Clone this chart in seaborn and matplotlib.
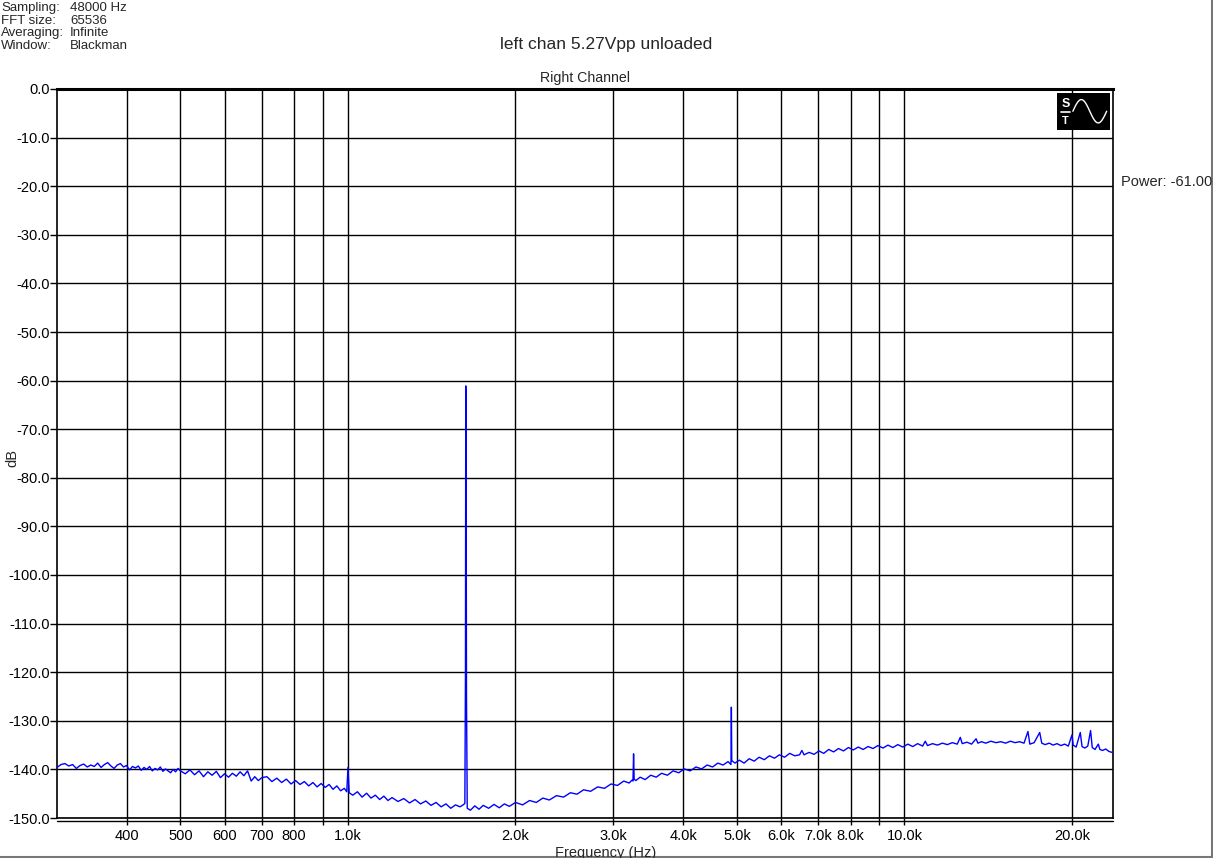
import numpy as np
import pandas as pd
import matplotlib
matplotlib.use("Agg")
import matplotlib.pyplot as plt
import matplotlib.ticker as mticker
from matplotlib.patches import Rectangle
import seaborn as sns

# spectrum, by segment
freq_a = [300, 305, 310, 315, 320, 325, 330, 335, 340, 345,
          350, 355, 360, 365, 370, 375, 380, 385, 390, 395,
          400, 405, 410, 415, 420, 425, 430, 435, 440, 445,
          450, 455, 460, 465, 470, 475, 480, 485, 490, 495,
          500, 510, 520, 530, 540, 550, 560, 570, 580, 590,
          600, 610, 620, 630, 640, 650, 660, 670, 680, 690, 700]
db_a = [-139.6, -139.0, -138.8, -139.3, -139.0, -139.8, -139.2, -138.9, -139.5, -139.1,
        -139.4, -138.7, -139.6, -139.0, -138.6, -139.3, -139.8, -139.1, -138.8, -139.5,
        -139.2, -140.1, -139.4, -139.7, -139.3, -140.2, -139.6, -140.0, -139.4, -140.3,
        -139.8, -140.1, -139.5, -140.4, -139.9, -140.3, -140.7, -140.0, -140.5, -139.8,
        -140.3, -140.9, -140.1, -141.1, -140.3, -141.5, -140.5, -141.2, -140.4, -141.7,
        -140.9, -141.6, -140.8, -141.4, -140.5, -141.3, -140.3, -142.4, -141.5, -142.3, -141.7]

freq_b = [715, 730, 745, 760, 775, 790, 805, 820, 835, 850,
          865, 880, 895, 910, 925, 940, 955, 970, 985,
          995, 1000, 1005,
          1020, 1040, 1060, 1080, 1100, 1120, 1140, 1160, 1180, 1200,
          1230, 1260, 1290, 1320, 1350, 1380, 1410, 1440, 1470, 1500,
          1530, 1560, 1590, 1610]
db_b = [-141.5, -142.5, -141.8, -142.7, -142.0, -143.0, -142.3, -143.1, -142.5, -143.4,
        -142.7, -143.6, -142.9, -143.7, -143.1, -144.1, -143.4, -144.4, -143.9,
        -144.6, -139.6, -144.8,
        -145.3, -144.6, -145.7, -144.9, -145.9, -145.3, -146.2, -145.5, -146.4, -145.8,
        -146.6, -146.0, -146.9, -146.2, -147.1, -146.5, -147.4, -146.8, -147.7, -147.1,
        -148.0, -147.3, -147.7, -147.3]

# fundamental
freq_tone = [1622, 1626, 1628, 1630, 1633, 1638]
db_tone = [-147.0, -120.0, -61.1, -64.0, -125.0, -148.0]

freq_c = [1660, 1690, 1720, 1750, 1790, 1830, 1870, 1910, 1950, 2000,
          2060, 2120, 2180, 2240, 2300, 2370, 2440, 2510, 2580, 2650,
          2730, 2810, 2890, 2970, 3050, 3130, 3200, 3240,
          3252, 3260, 3268]
db_c = [-148.4, -147.5, -148.2, -147.4, -148.0, -147.2, -147.9, -147.1, -147.6, -146.8,
        -147.3, -146.4, -146.8, -145.9, -146.3, -145.4, -145.7, -144.8, -145.1, -144.2,
        -144.5, -143.6, -143.9, -143.0, -143.3, -142.4, -142.8, -142.2,
        -142.4, -136.8, -142.0]

freq_d = [3290, 3350, 3420, 3500, 3580, 3660, 3750, 3840, 3930, 4020,
          4120, 4220, 4320, 4420, 4520, 4620, 4720, 4820, 4870,
          4878, 4886, 4894]
db_d = [-142.3, -141.6, -142.1, -141.2, -141.6, -140.8, -141.2, -140.3, -140.7, -139.9,
        -140.3, -139.5, -139.9, -139.1, -139.5, -138.7, -139.1, -138.4, -138.9,
        -139.0, -127.2, -138.2]

freq_e = [4960, 5050, 5150, 5260, 5370, 5480, 5600, 5720, 5840, 5960,
          6090, 6220, 6350, 6480, 6540, 6600, 6740, 6880, 7020, 7160,
          7310, 7460, 7610, 7770, 7930, 8090, 8260, 8430, 8600, 8780,
          8960, 9150, 9340, 9530, 9730, 9930, 10140, 10350, 10560, 10780]
db_e = [-138.7, -138.1, -138.7, -137.8, -138.3, -137.5, -138.0, -137.2, -137.7, -137.0,
        -137.5, -136.7, -137.2, -137.0, -136.1, -137.0, -136.5, -136.9, -136.2, -136.7,
        -135.9, -136.4, -135.7, -136.2, -135.5, -136.0, -135.4, -135.9, -135.3, -135.7,
        -135.1, -135.6, -135.0, -135.5, -134.9, -135.4, -134.8, -135.3, -134.7, -135.2]

freq_f = [10900, 11000, 11230, 11460, 11700, 11940, 12190, 12440, 12600, 12700,
          12950, 13200, 13450, 13550, 13750, 14000, 14300, 14600, 14900, 15200,
          15500, 15800, 16100, 16400, 16670, 16800, 17100, 17500, 17650, 17900,
          18200, 18500, 18800, 19100, 19400, 19700, 20000, 20100, 20350, 20700,
          20850, 21100, 21350, 21600, 21750, 22000, 22300, 22450, 22700, 23000,
          23300, 23600]
db_f = [-134.2, -135.1, -134.7, -135.0, -134.6, -134.9, -134.5, -134.8, -133.4, -134.7,
        -134.4, -134.8, -133.7, -134.6, -134.3, -134.6, -134.2, -134.5, -134.3, -134.6,
        -134.2, -134.5, -134.3, -134.6, -132.2, -134.8, -134.5, -132.4, -134.6, -134.9,
        -134.6, -135.0, -134.7, -135.1, -134.8, -135.2, -132.9, -135.0, -135.4, -132.4,
        -135.3, -135.6, -135.2, -132.0, -135.5, -135.9, -134.8, -135.9, -136.1, -135.8,
        -136.3, -136.5]

major_ticks = [400, 500, 600, 700, 800, 1000, 2000, 3000, 4000, 5000,
               6000, 7000, 8000, 10000, 20000]
major_labels = ["400", "500", "600", "700", "800", "1.0k", "2.0k", "3.0k", "4.0k",
                "5.0k", "6.0k", "7.0k", "8.0k", "10.0k", "20.0k"]
minor_ticks = [900, 9000]
db_ticks = list(range(-150, 1, 10))

info_keys = ["Sampling:", "FFT size:", "Averaging:", "Window:"]
info_vals = ["48000 Hz", "65536", "Infinite", "Blackman"]

df = pd.DataFrame({
    "freq": freq_a + freq_b + freq_tone + freq_c + freq_d + freq_e + freq_f,
    "db": db_a + db_b + db_tone + db_c + db_d + db_e + db_f,
})

sns.set_style("white")
plt.rcParams["font.family"] = ["Liberation Sans", "DejaVu Sans"]

W, H = 1213, 858
fig = plt.figure(figsize=(W / 100, H / 100), dpi=100)
ax = fig.add_axes([57 / W, 1 - 818 / H, (1113 - 57) / W, (818 - 89) / H])

sns.lineplot(data=df, x="freq", y="db", ax=ax, color="#0000ff", lw=1.0,
             estimator=None, sort=False, zorder=3)

ax.set_xscale("log")
ax.set_xlim(300, 23700)
ax.set_ylim(-150, 0)
ax.xaxis.set_major_locator(mticker.FixedLocator(major_ticks))
ax.xaxis.set_major_formatter(mticker.FixedFormatter(major_labels))
ax.xaxis.set_minor_locator(mticker.FixedLocator(minor_ticks))
ax.xaxis.set_minor_formatter(mticker.NullFormatter())
ax.set_yticks(db_ticks)
ax.set_yticklabels([f"{v:.1f}" for v in db_ticks])
ax.grid(True, which="both", color="black", lw=1.0)
ax.tick_params(axis="both", which="both", direction="out", length=5, width=1,
               color="black", labelsize=10.5, labelcolor="black",
               bottom=True, left=True)
ax.tick_params(axis="x", pad=3)
ax.tick_params(axis="y", pad=0)
ax.set_xlabel("")
ax.set_ylabel("")
for name, sp in ax.spines.items():
    sp.set_visible(True)
    sp.set_color("black")
    sp.set_linewidth(1.2)
ax.spines["top"].set_linewidth(2.2)
# doubled bottom line
ax.plot([0, 1], [-0.004, -0.004], transform=ax.transAxes, color="black",
        lw=1.0, clip_on=False)

# logo
ax.add_patch(Rectangle((0.947, 0.944), 0.050, 0.051, transform=ax.transAxes,
                       facecolor="black", edgecolor="none", zorder=5))
ax.text(0.955, 0.980, "S", transform=ax.transAxes, color="white", fontsize=9,
        fontweight="bold", ha="center", va="center", zorder=6)
ax.text(0.955, 0.956, "T", transform=ax.transAxes, color="white", fontsize=8,
        fontweight="bold", ha="center", va="center", zorder=6)
ax.plot([0.9505, 0.9595], [0.968, 0.968], transform=ax.transAxes, color="white",
        lw=1.2, zorder=6)
wx = np.linspace(0.962, 0.994, 40)
wy = 0.9695 + 0.016 * np.sin((wx - 0.962) / 0.032 * 2 * np.pi)
ax.plot(wx, wy, transform=ax.transAxes, color="white", lw=1.0, zorder=6)

# titles and labels
fig.text(606 / W, 1 - 45 / H, "left chan 5.27Vpp unloaded", ha="center",
         va="center", fontsize=12.5)
fig.text(585 / W, 1 - 78 / H, "Right Channel", ha="center", va="center",
         fontsize=10.2)
fig.text(12 / W, 1 - 458 / H, "dB", rotation=90, ha="center", va="center",
         fontsize=10.5)
fig.text(606 / W, 1 - 846 / H, "Frequency (Hz)", ha="center", va="top",
         fontsize=10.5)
fig.text(1121 / W, 1 - 182 / H, "Power: -61.007", ha="left", va="center",
         fontsize=10.5)
for i, (k, v) in enumerate(zip(info_keys, info_vals)):
    y = 1 - (8 + i * 12.7) / H
    fig.text(1 / W, y, k, ha="left", va="center", fontsize=9.5)
    fig.text(70 / W, y, v, ha="left", va="center", fontsize=9.5)

# grey frame at right/bottom of the window
fig.add_artist(plt.Line2D([0, 1], [1.5 / H, 1.5 / H], transform=fig.transFigure,
                          color="#777777", lw=1.5))
fig.add_artist(plt.Line2D([1 - 1.5 / W, 1 - 1.5 / W], [0, 1], transform=fig.transFigure,
                          color="#777777", lw=1.5))

fig.savefig("out.png", dpi=100)
